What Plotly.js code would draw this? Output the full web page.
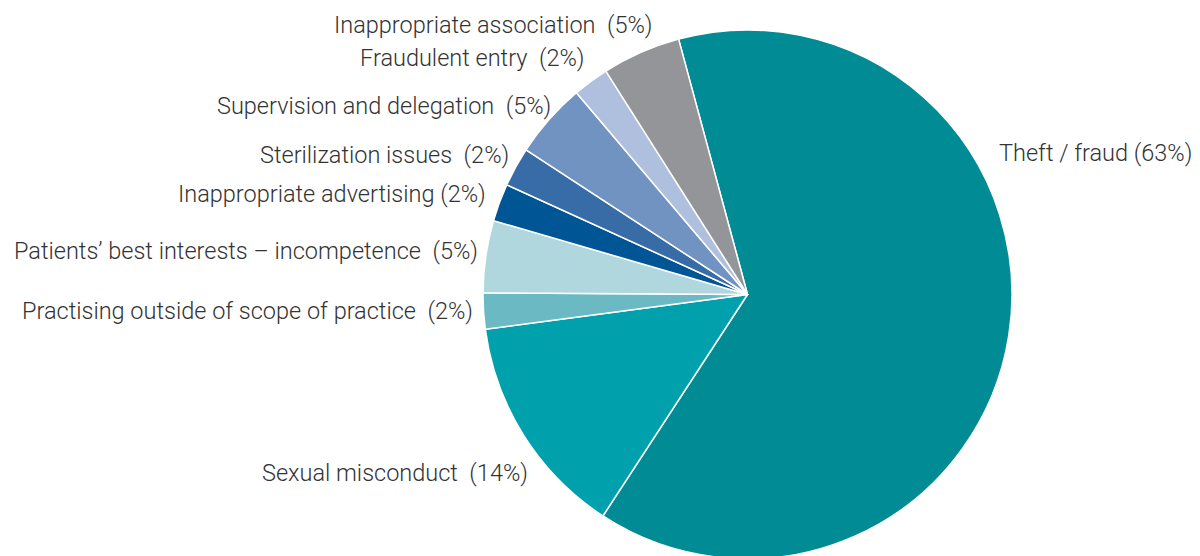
<!DOCTYPE html>
<html>
<head>
<meta charset="utf-8">
<script src="https://cdn.plot.ly/plotly-3.0.1.min.js"></script>
<style>
html,body{margin:0;padding:0;overflow:hidden;background:#fff;}
#chart{width:1200px;height:559px;}
</style>
</head>
<body>
<div id="chart"></div>
<script>
// Data (clockwise from the top-left edge of "Theft / fraud")
var categories = [
  "Theft / fraud",
  "Sexual misconduct",
  "Practising outside of scope of practice",
  "Patients\u2019 best interests \u2013 incompetence",
  "Inappropriate advertising",
  "Sterilization issues",
  "Supervision and delegation",
  "Fraudulent entry",
  "Inappropriate association"
];
var shares = [63.4, 13.7, 2.2, 4.4, 2.3, 2.4, 4.6, 2.2, 4.8];
var percentLabels = ["63%", "14%", "2%", "5%", "2%", "2%", "5%", "2%", "5%"];
var labelGap = [" ", "\u00a0 ", "\u00a0 ", "\u00a0 ", " ", "\u00a0 ", "\u00a0 ", "\u00a0 ", "\u00a0 "];

// Styling / layout (kept separate from data)
var colors = ["#008b95", "#00a0ad", "#6ab9c3", "#b0d7de", "#005595", "#386ca6", "#7093c1", "#afc0de", "#939598"];
// label anchor positions in pixels: [x, yCenter, side]
var labelPos = [
  [1000, 153, "left"],
  [527, 473, "right"],
  [472, 310.5, "right"],
  [477, 251, "right"],
  [485, 194.5, "right"],
  [508, 155.5, "right"],
  [550, 106, "right"],
  [583, 58, "right"],
  [652, 25, "right"]
];

var W = 1200, H = 559, MT = 30, MB = 0;
var cx = 747.5;
var PH = H - MT - MB;
var annotations = categories.map(function(c, i){
  var p = labelPos[i];
  return {
    text: c + labelGap[i] + "(" + percentLabels[i] + ")",
    xref: "paper", yref: "paper",
    x: (p[2] === "left" ? p[0] - 3 : p[0] + 3) / W,
    y: 1 - (p[1] - MT) / PH,
    xanchor: p[2], yanchor: "middle",
    showarrow: false,
    font: {family: "Roboto, 'Liberation Sans', Arial, sans-serif", size: 23.5, color: "#333333", weight: 300}
  };
});

var trace = {
  type: "pie",
  labels: categories,
  values: shares,
  sort: false,
  direction: "clockwise",
  rotation: -15.1,
  marker: {colors: colors, line: {color: "#ffffff", width: 1.5}},
  textinfo: "none",
  hoverinfo: "label+percent",
  domain: {x: [cx / W - 0.3, cx / W + 0.3], y: [0, 1]},
  showlegend: false
};

var layout = {
  width: W, height: H,
  margin: {l: 0, r: 0, t: MT, b: MB},
  paper_bgcolor: "#ffffff",
  plot_bgcolor: "#ffffff",
  showlegend: false,
  annotations: annotations
};

Plotly.newPlot("chart", [trace], layout, {displayModeBar: false, staticPlot: true});
</script>
</body>
</html>
